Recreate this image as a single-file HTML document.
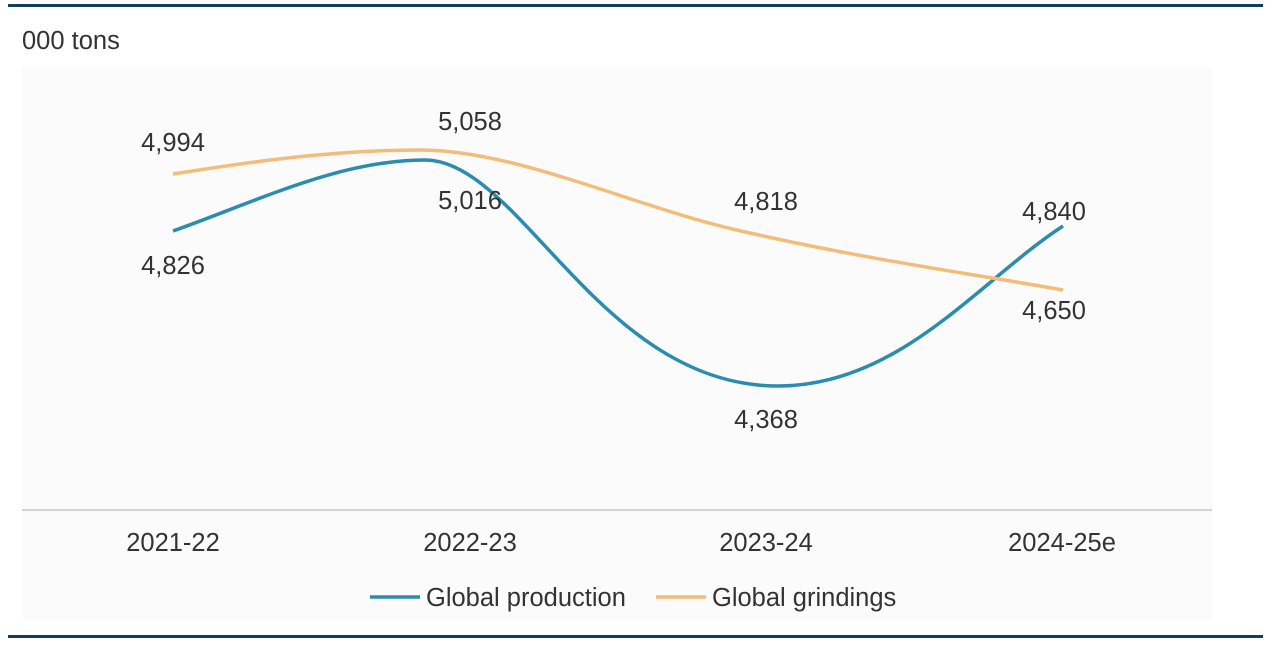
<!DOCTYPE html>
<html><head><meta charset="utf-8"><style>
body{margin:0;background:#fff;}
svg{display:block;font-family:"Liberation Sans",sans-serif;}
</style></head><body>
<svg width="1271" height="646" viewBox="0 0 1271 646">
<rect x="0" y="0" width="1271" height="646" fill="#fff"/>
<rect x="8" y="4" width="1255" height="3" fill="#143d5c"/>
<rect x="22" y="67" width="1190" height="553" fill="#fbfbfb"/>
<rect x="8" y="635" width="1255" height="3" fill="#143d5c"/>
<text x="22" y="49" font-size="25.5" fill="#333">000 tons</text>
<line x1="22" y1="510" x2="1212" y2="510" stroke="#c8c8c8" stroke-width="1.5"/>
<path d="M173,231 C260,200 340,160 425,160 C520,160 600,386 778,386 C900,386 980,280 1063,226" fill="none" stroke="#2a8cae" stroke-width="3.5"/>
<path d="M173,174 C260,160 340,150 420,150 C520,150 640,210 750,233 C880,262 980,275 1063,290" fill="none" stroke="#f2bd7a" stroke-width="3.5"/>
<g font-size="25.5" fill="#333" text-anchor="middle">
<text x="173" y="151">4,994</text>
<text x="173" y="274">4,826</text>
<text x="470" y="130">5,058</text>
<text x="470" y="209">5,016</text>
<text x="766" y="210">4,818</text>
<text x="766" y="428">4,368</text>
<text x="1054" y="220">4,840</text>
<text x="1054" y="319">4,650</text>
<text x="173" y="551">2021-22</text>
<text x="470" y="551">2022-23</text>
<text x="766" y="551">2023-24</text>
<text x="1062" y="551">2024-25e</text>
</g>
<line x1="370" y1="597" x2="420" y2="597" stroke="#2a8cae" stroke-width="3.5"/>
<text x="426" y="606" font-size="25.5" fill="#333">Global production</text>
<line x1="656" y1="597" x2="706" y2="597" stroke="#f2bd7a" stroke-width="3.5"/>
<text x="712" y="606" font-size="25.5" fill="#333">Global grindings</text>
</svg>
</body></html>
